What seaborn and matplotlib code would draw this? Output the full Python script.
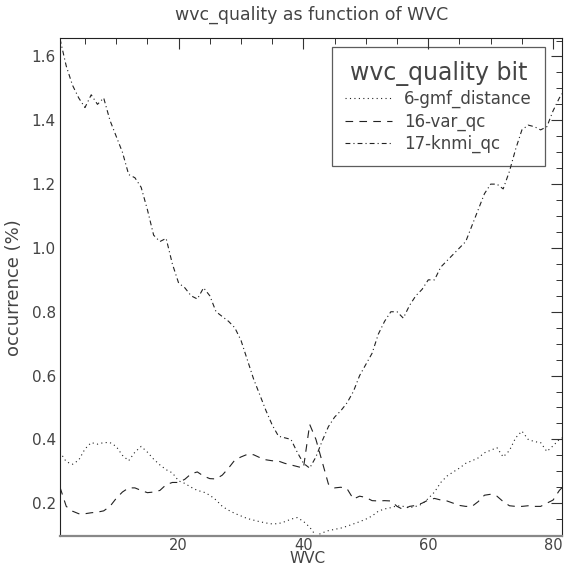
import matplotlib
matplotlib.use('Agg')
import matplotlib.pyplot as plt
import seaborn as sns
import pandas as pd
from matplotlib.lines import Line2D
from matplotlib.ticker import MultipleLocator, FormatStrFormatter

# WVC index 1..82
wvc = list(range(1, 83))

gmf_distance = [0.36, 0.33, 0.322, 0.335, 0.37, 0.39, 0.385, 0.39, 0.39, 0.378,
                0.35, 0.333, 0.36, 0.378, 0.36, 0.338, 0.32, 0.305, 0.295, 0.27,
                0.262, 0.25, 0.24, 0.235, 0.225, 0.21, 0.19, 0.178, 0.168, 0.16,
                0.152, 0.147, 0.142, 0.138, 0.135, 0.136, 0.142, 0.15, 0.155, 0.143,
                0.125, 0.098, 0.107, 0.114, 0.118, 0.122, 0.128, 0.135, 0.142, 0.15,
                0.16, 0.175, 0.182, 0.186, 0.192, 0.19, 0.186, 0.19, 0.197, 0.215,
                0.235, 0.265, 0.285, 0.298, 0.31, 0.325, 0.333, 0.342, 0.358, 0.366,
                0.374, 0.345, 0.365, 0.405, 0.426, 0.40, 0.393, 0.39, 0.362, 0.38,
                0.40, 0.41]

var_qc = [0.25, 0.19, 0.175, 0.167, 0.167, 0.17, 0.172, 0.176, 0.19, 0.215,
          0.235, 0.248, 0.248, 0.24, 0.233, 0.235, 0.24, 0.258, 0.265, 0.265,
          0.275, 0.292, 0.298, 0.285, 0.277, 0.276, 0.288, 0.31, 0.335, 0.345,
          0.353, 0.352, 0.343, 0.336, 0.333, 0.332, 0.325, 0.32, 0.315, 0.31,
          0.447, 0.40, 0.33, 0.26, 0.248, 0.25, 0.245, 0.213, 0.222, 0.218,
          0.208, 0.207, 0.208, 0.207, 0.19, 0.18, 0.19, 0.193, 0.2, 0.21,
          0.215, 0.21, 0.207, 0.2, 0.193, 0.19, 0.19, 0.205, 0.225, 0.228,
          0.222, 0.205, 0.192, 0.19, 0.19, 0.192, 0.19, 0.19, 0.2, 0.21,
          0.24, 0.26]

knmi_qc = [1.655, 1.57, 1.51, 1.47, 1.44, 1.48, 1.45, 1.47, 1.40, 1.35,
           1.30, 1.23, 1.22, 1.19, 1.12, 1.04, 1.02, 1.03, 0.95, 0.89,
           0.875, 0.85, 0.84, 0.875, 0.85, 0.80, 0.785, 0.77, 0.75, 0.71,
           0.65, 0.59, 0.54, 0.49, 0.445, 0.41, 0.405, 0.40, 0.36, 0.325,
           0.31, 0.345, 0.395, 0.44, 0.47, 0.49, 0.515, 0.55, 0.60, 0.635,
           0.67, 0.73, 0.77, 0.80, 0.80, 0.78, 0.82, 0.85, 0.87, 0.90,
           0.90, 0.94, 0.96, 0.98, 1.00, 1.02, 1.07, 1.12, 1.17, 1.20,
           1.20, 1.185, 1.24, 1.31, 1.37, 1.385, 1.38, 1.37, 1.38, 1.43,
           1.47, 1.50]

labels = ['6-gmf_distance', '16-var_qc', '17-knmi_qc']

df = pd.DataFrame({
    'WVC': wvc * 3,
    'occ': gmf_distance + var_qc + knmi_qc,
    'bit': [labels[0]] * 82 + [labels[1]] * 82 + [labels[2]] * 82,
})

sns.set_style('white')
plt.rcParams['font.family'] = ['DejaVu Sans']
plt.rcParams['lines.scale_dashes'] = False

dash_styles = [(0.8, 2.4), (5.5, 4.5), (3.5, 2.2, 0.8, 2.2)]
txt = '#444444'
line_col = '#222222'

fig = plt.figure(figsize=(5.64, 5.67), dpi=100)
ax = fig.add_axes([0.1064, 0.054, 0.8909, 0.879])

sns.lineplot(data=df, x='WVC', y='occ', style='bit', dashes=dash_styles,
             color=line_col, linewidth=0.8, legend=False, ax=ax)

ax.set_xlim(1, 81.5)
ax.set_ylim(0.096, 1.658)

ax.xaxis.set_major_locator(MultipleLocator(20))
ax.xaxis.set_minor_locator(MultipleLocator(5))
ax.yaxis.set_major_locator(MultipleLocator(0.2))
ax.yaxis.set_minor_locator(MultipleLocator(0.05))
ax.yaxis.set_major_formatter(FormatStrFormatter('%.1f'))

ax.tick_params(which='both', direction='in', top=True, right=True,
               colors='#333333', labelcolor=txt, labelsize=11)
ax.tick_params(which='major', length=8, width=0.8)
ax.tick_params(which='minor', length=4, width=0.7)
ax.tick_params(axis='x', pad=1, labelsize=10.5)
ax.tick_params(axis='y', pad=3)

for side in ['top', 'right', 'left']:
    ax.spines[side].set_color('#222222')
    ax.spines[side].set_linewidth(0.8)
ax.spines['bottom'].set_color('#888888')
ax.spines['bottom'].set_linewidth(1.6)

ax.set_title('wvc_quality as function of WVC', color=txt, fontsize=12.5, pad=13)
ax.set_xlabel('WVC', color=txt, fontsize=11)
ax.xaxis.label.set_va('bottom')
ax.xaxis.set_label_coords(0.545, 0.001, transform=fig.transFigure)
ax.set_ylabel('occurrence (%)', color=txt, fontsize=13, labelpad=6)

handles = [Line2D([0], [0], color=line_col, linewidth=0.8, dashes=d) for d in dash_styles]
leg = ax.legend(handles, labels, title='wvc_quality bit', loc='upper right',
                bbox_to_anchor=(0.965, 0.981), frameon=True, fancybox=False,
                fontsize=12, title_fontsize=17, handlelength=2.8,
                handletextpad=0.7, labelspacing=0.25, borderpad=0.8,
                borderaxespad=0)
leg.get_frame().set_edgecolor('#333333')
leg.get_frame().set_linewidth(0.9)
leg.get_frame().set_facecolor('none')
leg.get_title().set_color(txt)
for t in leg.get_texts():
    t.set_color(txt)

fig.savefig('out.png', dpi=100)
